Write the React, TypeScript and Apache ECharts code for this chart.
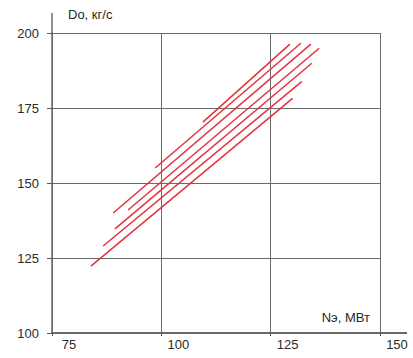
import React, { useEffect, useRef } from "react";
import * as echarts from "echarts";

// X ticks (Nэ, МВт) and Y ticks (Do, кг/с)
const xTicks = [75, 100, 125, 150];
const yTicks = [100, 125, 150, 175, 200];

// Seven parallel characteristic lines: start and end points
const powerStart = [109.5, 98.6, 89.0, 92.4, 89.4, 86.7, 83.9];
const flowStart = [170.3, 155.0, 140.0, 141.0, 134.7, 129.0, 122.3];
const powerEnd = [129.4, 131.9, 134.2, 136.1, 134.4, 132.1, 130.0];
const flowEnd = [196.3, 196.6, 196.3, 194.9, 189.9, 183.8, 178.2];

const xName = "Nэ, МВт";
const yName = "Do, кг/с";

export default function App() {
  const ref = useRef<HTMLDivElement>(null);
  useEffect(() => {
    if (!ref.current) return;
    const chart = echarts.init(ref.current, undefined, { renderer: "svg" });
    const series = powerStart.map((x0, i) => ({
      type: "line" as const,
      data: [
        [x0, flowStart[i]],
        [powerEnd[i], flowEnd[i]],
      ],
      symbol: "none",
      lineStyle: { color: "#e2323c", width: 1.5 },
      silent: true,
    }));
    chart.setOption({
      animation: false,
      backgroundColor: "#ffffff",
      grid: { left: 52, top: 33, right: 33, bottom: 25, containLabel: false },
      xAxis: {
        type: "value",
        min: xTicks[0],
        max: xTicks[xTicks.length - 1],
        interval: 25,
        name: xName,
        nameLocation: "end",
        nameGap: -10,
        nameTextStyle: {
          fontFamily: "Liberation Sans",
          fontSize: 13,
          color: "#2a2a2a",
          align: "right",
          verticalAlign: "bottom",
          padding: [0, 0, 9, 0],
        },
        axisLine: { show: true, lineStyle: { color: "#6a6a6a", width: 2 } },
        axisTick: { show: true, length: 3, lineStyle: { color: "#555", width: 1 } },
        axisLabel: {
          fontFamily: "Liberation Sans",
          fontSize: 13,
          color: "#2a2a2a",
          margin: 5,
          padding: [0, 0, 0, 34],
        },
        splitLine: { show: true, lineStyle: { color: "#6a6a6a", width: 1 } },
      },
      yAxis: {
        type: "value",
        min: yTicks[0],
        max: yTicks[yTicks.length - 1],
        interval: 25,
        name: yName,
        nameLocation: "end",
        nameGap: 10,
        nameTextStyle: {
          fontFamily: "Liberation Sans",
          fontSize: 13,
          color: "#2a2a2a",
          align: "left",
          verticalAlign: "bottom",
          padding: [0, 0, 2, 16],
        },
        axisLine: { show: true, lineStyle: { color: "#6a6a6a", width: 1.5 } },
        axisTick: { show: true, length: 5, lineStyle: { color: "#555", width: 1 } },
        axisLabel: {
          fontFamily: "Liberation Sans",
          fontSize: 13,
          color: "#2a2a2a",
          margin: 13,
          verticalAlign: "middle",
          padding: [0, 0, 14, 0],
        },
        splitLine: { show: true, lineStyle: { color: "#6a6a6a", width: 1 } },
      },
      series,
    });
    // Axis extensions beyond the plot frame
    const [xMaxPx, yMinPx] = chart.convertToPixel({ gridIndex: 0 }, [150, 100]) as number[];
    const [xMinPx, yMaxPx] = chart.convertToPixel({ gridIndex: 0 }, [75, 200]) as number[];
    chart.setOption({
      graphic: [
        {
          type: "line",
          shape: { x1: xMaxPx, y1: yMinPx, x2: xMaxPx + 27, y2: yMinPx },
          style: { stroke: "#6a6a6a", lineWidth: 2 },
        },
        {
          type: "line",
          shape: { x1: xMinPx, y1: yMaxPx, x2: xMinPx, y2: yMaxPx - 20 },
          style: { stroke: "#6a6a6a", lineWidth: 1.5 },
        },
      ],
    });
    return () => chart.dispose();
  }, []);
  return (
    <div
      ref={ref}
      style={{ position: "fixed", left: 0, top: 0, width: 413, height: 358 }}
    />
  );
}
